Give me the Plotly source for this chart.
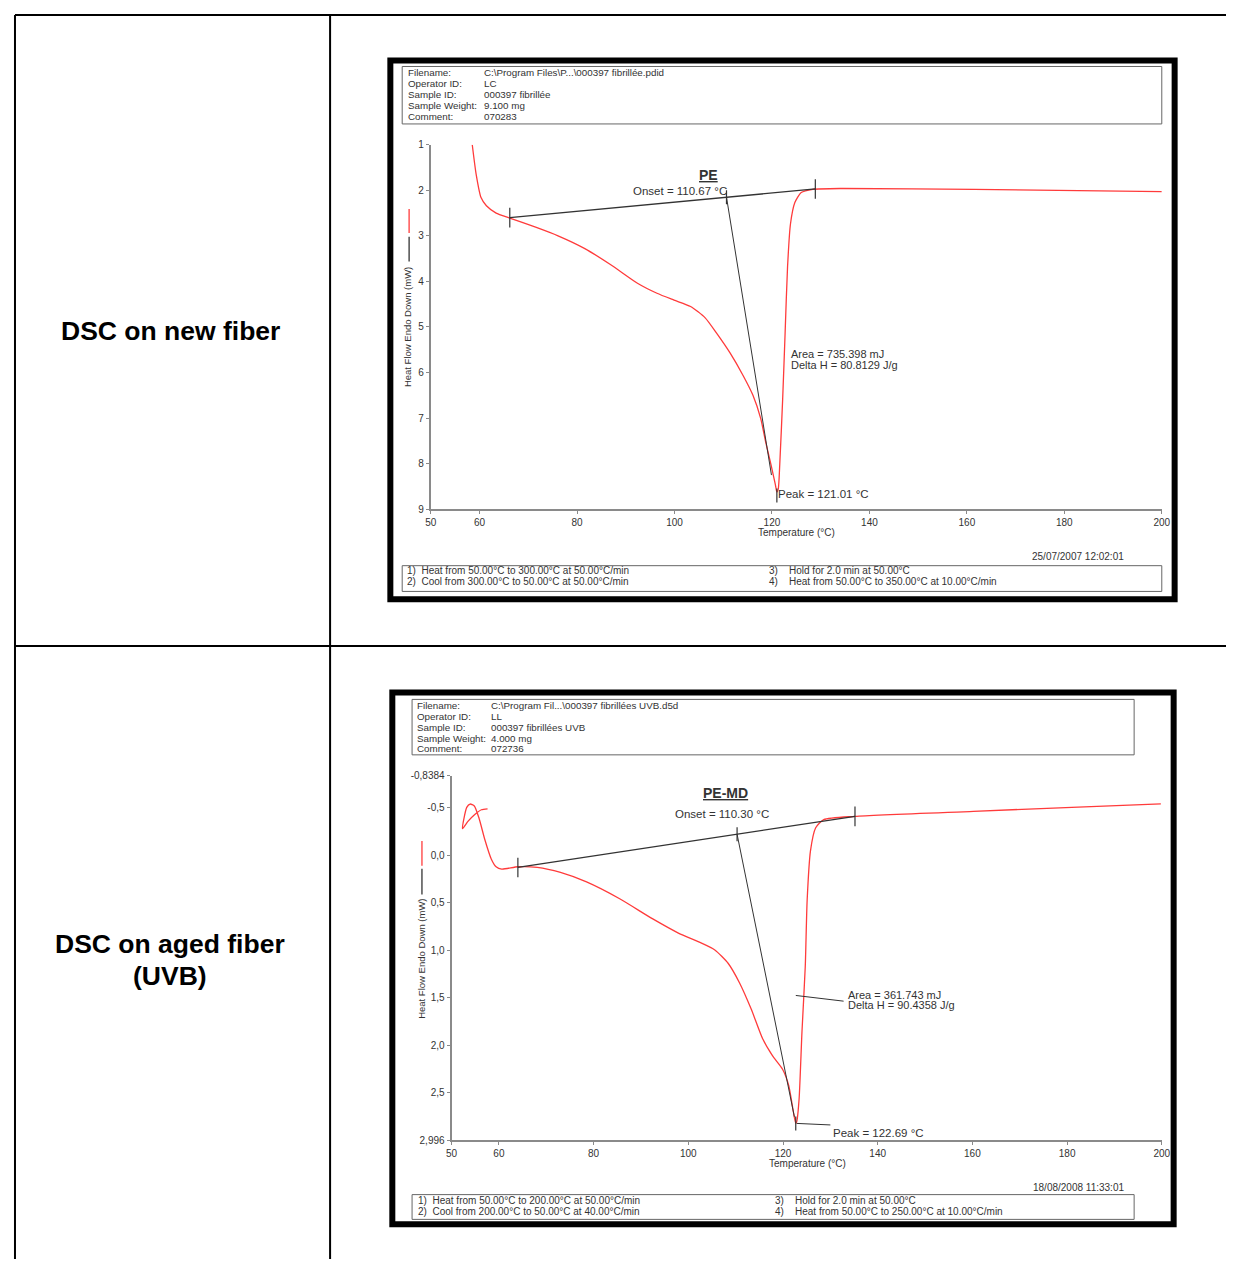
import plotly.graph_objects as go

# page is 1243x1273; the browser adds an 8px body margin around the figure
PAGE_W, PAGE_H = 1243, 1273
M = 8
W, H = PAGE_W - 2 * M, PAGE_H - 2 * M
FONT = "Liberation Sans, Arial, sans-serif"

# ---------------- data: new fiber ----------------
temp_new = [58.5, 59.3, 60.3, 61.4, 63.4, 66.2, 71.5, 76.1, 81.6, 87.0, 92.4, 96.4, 99.9,
            103.3, 106.3, 108.6, 111.4, 114.1, 116.1, 117.7, 118.7, 119.8, 120.7, 121.0,
            121.3, 121.6, 122.2, 122.7, 123.2, 123.8, 124.7, 126.0, 128.4, 134.5, 161.5, 200.0]
hf_new = [1.0, 1.65, 2.16, 2.34, 2.5, 2.61, 2.81, 3.0, 3.28, 3.64, 4.04, 4.26, 4.41,
          4.55, 4.8, 5.13, 5.57, 6.07, 6.5, 7.01, 7.52, 8.02, 8.46, 8.62,
          8.55, 8.02, 6.58, 5.13, 3.68, 2.74, 2.27, 2.05, 1.98, 1.96, 1.98, 2.03]
base_new_t = [66.2, 128.9]
base_new_hf = [2.6, 1.97]
onset_new_t = [110.67, 119.9]
onset_new_hf = [2.15, 8.25]
peak_new_t = [121.01]
peak_new_hf = [8.7]

# ---------------- data: aged fiber (UVB) ----------------
temp_aged = [57.6, 56.3, 54.9, 53.5, 52.3, 53.2, 53.9, 54.8, 55.8, 57.0, 58.4, 59.4, 60.6,
             64.0, 68.1, 73.0, 78.5, 85.5, 92.4, 98.0, 102.2, 105.6, 108.4, 110.8, 113.3,
             115.7, 117.8, 119.9, 121.2, 122.3, 122.7, 122.9, 123.4, 124.0, 124.7, 125.1,
             125.8, 126.9, 128.6, 135.2, 160.2, 181.0, 199.8]
hf_aged = [-0.49, -0.48, -0.43, -0.36, -0.28, -0.505, -0.54, -0.52, -0.39, -0.17, 0.04, 0.12,
           0.145, 0.12, 0.127, 0.18, 0.28, 0.457, 0.666, 0.82, 0.91, 0.995, 1.135, 1.34, 1.62,
           1.93, 2.11, 2.25, 2.42, 2.73, 2.82, 2.80, 2.56, 1.86, 1.17, 0.47,
           -0.047, -0.29, -0.376, -0.41, -0.463, -0.505, -0.542]
base_aged_t = [64.0, 135.2]
base_aged_hf = [0.127, -0.41]
onset_aged_t = [110.30, 122.4]
onset_aged_hf = [-0.222, 2.75]
peak_aged_t = [122.69]
peak_aged_hf = [2.82]
peak_lead_t = [122.9, 130.0]
peak_lead_hf = [2.82, 2.836]
area_lead_t = [122.7, 132.8]
area_lead_hf = [1.474, 1.534]

# ticks
x_ticks = [50, 60, 80, 100, 120, 140, 160, 180, 200]
y_ticks_new = [1, 2, 3, 4, 5, 6, 7, 8, 9]
y_ticks_aged = [-0.8384, -0.5, 0.0, 0.5, 1.0, 1.5, 2.0, 2.5, 2.996]
y_ticktext_aged = ["-0,8384", "-0,5", "0,0", "0,5", "1,0", "1,5", "2,0", "2,5", "2,996"]

header_labels = ["Filename:", "Operator ID:", "Sample ID:", "Sample Weight:", "Comment:"]
header_new = ["C:\\Program Files\\P...\\000397 fibrillée.pdid", "LC", "000397 fibrillée",
              "9.100 mg", "070283"]
header_aged = ["C:\\Program Fil...\\000397 fibrillées UVB.d5d", "LL", "000397 fibrillées UVB",
               "4.000 mg", "072736"]
steps_new = ["1)  Heat from 50.00°C to 300.00°C at 50.00°C/min",
             "2)  Cool from 300.00°C to 50.00°C at 50.00°C/min",
             "3)    Hold for 2.0 min at 50.00°C",
             "4)    Heat from 50.00°C to 350.00°C at 10.00°C/min"]
steps_aged = ["1)  Heat from 50.00°C to 200.00°C at 50.00°C/min",
              "2)  Cool from 200.00°C to 50.00°C at 40.00°C/min",
              "3)    Hold for 2.0 min at 50.00°C",
              "4)    Heat from 50.00°C to 250.00°C at 10.00°C/min"]


def px(x):
    return (x - M) / W


def py(y):
    return 1 - (y - M) / H


RED = "#ff3b3b"
DARK = "#333333"

fig = go.Figure()


def add_panel(xa, ya, t, hf, bt, bhf, ot, ohf, pt, phf):
    fig.add_trace(go.Scatter(x=t, y=hf, mode="lines", xaxis=xa, yaxis=ya,
                             line=dict(color=RED, width=1.3, shape="spline", smoothing=0.6),
                             hoverinfo="skip", showlegend=False))
    fig.add_trace(go.Scatter(x=bt, y=bhf, mode="lines+markers", xaxis=xa, yaxis=ya,
                             line=dict(color=DARK, width=1.3),
                             marker=dict(symbol="line-ns", size=14,
                                         line=dict(color=DARK, width=1.2)),
                             hoverinfo="skip", showlegend=False))
    fig.add_trace(go.Scatter(x=ot, y=ohf, mode="lines", xaxis=xa, yaxis=ya,
                             line=dict(color=DARK, width=1.0),
                             hoverinfo="skip", showlegend=False))
    fig.add_trace(go.Scatter(x=[ot[0]], y=[ohf[0]], mode="markers", xaxis=xa, yaxis=ya,
                             marker=dict(symbol="line-ns", size=10,
                                         line=dict(color=DARK, width=1.2)),
                             hoverinfo="skip", showlegend=False))
    fig.add_trace(go.Scatter(x=pt, y=phf, mode="markers", xaxis=xa, yaxis=ya,
                             marker=dict(symbol="line-ns", size=10,
                                         line=dict(color=DARK, width=1.2)),
                             hoverinfo="skip", showlegend=False))


add_panel("x", "y", temp_new, hf_new, base_new_t, base_new_hf,
          onset_new_t, onset_new_hf, peak_new_t, peak_new_hf)
add_panel("x2", "y2", temp_aged, hf_aged, base_aged_t, base_aged_hf,
          onset_aged_t, onset_aged_hf, peak_aged_t, peak_aged_hf)
for lt, lh in [(peak_lead_t, peak_lead_hf), (area_lead_t, area_lead_hf)]:
    fig.add_trace(go.Scatter(x=lt, y=lh, mode="lines", xaxis="x2", yaxis="y2",
                             line=dict(color=DARK, width=1.0),
                             hoverinfo="skip", showlegend=False))

axis_common = dict(showline=True, linecolor="#8a8a8a", linewidth=2, ticks="outside",
                   ticklen=3, tickcolor="#8a8a8a", tickwidth=1, showgrid=False,
                   zeroline=False, tickfont=dict(family=FONT, size=10, color=DARK),
                   fixedrange=True)

fig.update_layout(
    width=W, height=H, margin=dict(l=0, r=0, t=0, b=0),
    paper_bgcolor="white", plot_bgcolor="white", showlegend=False,
    xaxis=dict(domain=[px(430), px(1170)], range=[50, 200], anchor="y",
               tickmode="array", tickvals=x_ticks, **axis_common),
    yaxis=dict(domain=[py(508), py(140)], range=[9, 1], anchor="x",
               tickmode="array", tickvals=y_ticks_new, **axis_common),
    xaxis2=dict(domain=[px(451), px(1170)], range=[50, 200], anchor="y2",
                tickmode="array", tickvals=x_ticks, **axis_common),
    yaxis2=dict(domain=[py(1145), py(777)], range=[2.996, -0.8384], anchor="x2",
                tickmode="array", tickvals=y_ticks_aged, ticktext=y_ticktext_aged,
                **axis_common),
)

shapes = []


def line(x0, y0, x1, y1, color="black", width=2, layer="above"):
    shapes.append(dict(type="line", xref="paper", yref="paper", x0=px(x0), y0=py(y0),
                       x1=px(x1), y1=py(y1), line=dict(color=color, width=width),
                       layer=layer))


def rect(x0, y0, x1, y1, color, width):
    shapes.append(dict(type="rect", xref="paper", yref="paper", x0=px(x0), y0=py(y0),
                       x1=px(x1), y1=py(y1), line=dict(color=color, width=width),
                       fillcolor="rgba(0,0,0,0)", layer="above"))


# table grid
line(9, 9, 1235, 9)
line(9, 9, 9, 1265)
line(328, 9, 328, 1265)
line(9, 646, 1235, 646)

# screenshot frames
rect(389, 55, 1183, 599, "black", 6)
rect(391, 693, 1182, 1230, "black", 6)
# header / footer boxes
rect(401, 61, 1170, 119, "#666666", 1)
rect(401, 565, 1170, 591, "#666666", 1)
rect(411, 700, 1142, 756, "#666666", 1)
rect(411, 1200, 1142, 1225, "#666666", 1)

# legend segments in y titles
line(408, 205, 408, 229, RED, 1.3)
line(408, 233, 408, 258, DARK, 1.3)
line(421, 843, 421, 868, RED, 1.3)
line(421, 871, 421, 897, DARK, 1.3)

fig.update_layout(shapes=shapes)

ann = []


def text(x, y, s, size=10, xanchor="left", bold=False, color=DARK, angle=0, underline=False):
    if underline:
        s = "<u>" + s + "</u>"
    if bold:
        s = "<b>" + s + "</b>"
    ann.append(dict(x=px(x), y=py(y), xref="paper", yref="paper", text=s, showarrow=False,
                    xanchor=xanchor, yanchor="middle", textangle=angle, borderpad=0,
                    font=dict(family=FONT, size=size, color=color)))


# table labels
text(166, 328, "DSC on new fiber", size=26.5, xanchor="center", bold=True, color="black")
text(166, 947, "DSC on aged fiber", size=26.5, xanchor="center", bold=True, color="black")
text(166, 979, "(UVB)", size=26.5, xanchor="center", bold=True, color="black")

# headers
for i, (lab, v1, v2) in enumerate(zip(header_labels, header_new, header_aged)):
    text(406, 67 + 11 * i, lab, size=9.8)
    text(483, 67 + 11 * i, v1, size=9.8)
    text(415, 706 + 11 * i, lab, size=9.8)
    text(490, 706 + 11 * i, v2, size=9.8)

# footers
text(405, 570, steps_new[0], size=10)
text(405, 581, steps_new[1], size=10)
text(771, 570, steps_new[2], size=10)
text(771, 581, steps_new[3], size=10)
text(416, 1206, steps_aged[0], size=10)
text(416, 1217, steps_aged[1], size=10)
text(777, 1206, steps_aged[2], size=10)
text(777, 1217, steps_aged[3], size=10)

text(1133, 556, "25/07/2007 12:02:01", size=10, xanchor="right")
text(1133, 1193, "18/08/2008 11:33:01", size=10, xanchor="right")

# axis titles
text(800, 532, "Temperature (°C)", size=10, xanchor="center")
text(811, 1169, "Temperature (°C)", size=10, xanchor="center")
text(407, 324, "Heat Flow Endo Down (mW)", size=9.5, xanchor="center", angle=-90)
text(421, 962, "Heat Flow Endo Down (mW)", size=9.5, xanchor="center", angle=-90)

# in-plot labels, panel 1
text(711, 171, "PE", size=14, xanchor="center", bold=True, underline=True)
text(731, 187, "Onset = 110.67 °C", size=11.5, xanchor="right")
text(794, 351, "Area = 735.398 mJ", size=11)
text(794, 362, "Delta H = 80.8129 J/g", size=11)
text(780, 493, "Peak = 121.01 °C", size=11.5)

# in-plot labels, panel 2
text(728, 795, "PE-MD", size=14, xanchor="center", bold=True, underline=True)
text(725, 816, "Onset = 110.30 °C", size=11.5, xanchor="center")
text(851, 998, "Area = 361.743 mJ", size=11)
text(851, 1009, "Delta H = 90.4358 J/g", size=11)
text(836, 1138, "Peak = 122.69 °C", size=11.5)

fig.update_layout(annotations=ann)

fig.write_html("out.html", config={"displayModeBar": False})
